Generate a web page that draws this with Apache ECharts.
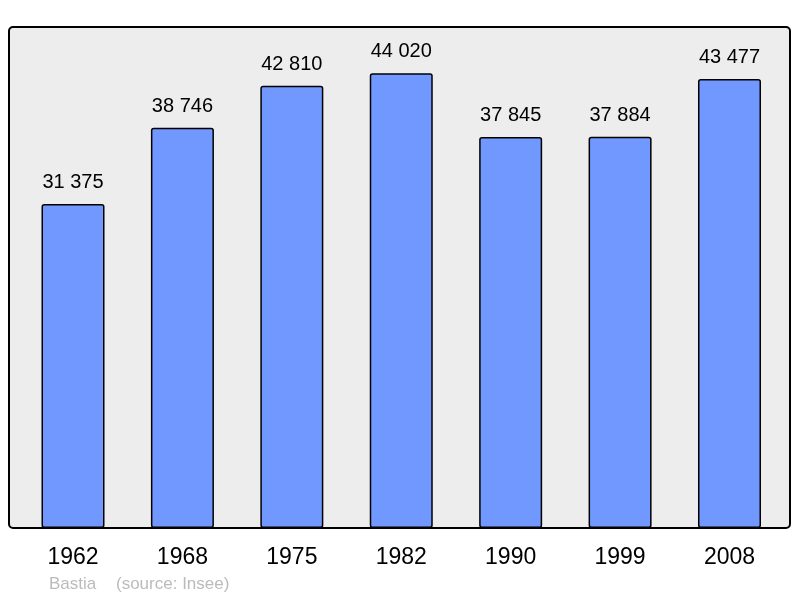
<!DOCTYPE html>
<html>
<head>
<meta charset="utf-8">
<script src="https://cdn.jsdelivr.net/npm/echarts@6/dist/echarts.min.js"></script>
<style>
html,body{margin:0;padding:0;background:#fff;}
#c{width:800px;height:598px;}
</style>
</head>
<body>
<div id="c"></div>
<script>
const years = ['1962','1968','1975','1982','1990','1999','2008'];
const population = [31375, 38746, 42810, 44020, 37845, 37884, 43477];
const footerPlace = 'Bastia';
const footerSource = '(source: Insee)';

function fmt(v){ return String(v).replace(/\B(?=(\d{3})+(?!\d))/g, ' '); }

const chart = echarts.init(document.getElementById('c'), null, {renderer:'canvas'});
chart.setOption({
  animation: false,
  textStyle: { fontFamily: 'Liberation Sans, Arial, sans-serif' },
  graphic: [{
    type: 'rect',
    shape: { x: 9, y: 27, width: 781, height: 501, r: 4 },
    style: { fill: '#ededed', stroke: '#000', lineWidth: 2 },
    z: -10
  }, {
    type: 'text',
    left: 49, top: 576,
    style: { text: footerPlace, fill: '#bbbbbb', font: '17px "Liberation Sans", Arial, sans-serif' }
  }, {
    type: 'text',
    left: 116, top: 576,
    style: { text: footerSource, fill: '#bbbbbb', font: '17px "Liberation Sans", Arial, sans-serif' }
  }],
  grid: { left: 18.3, right: 800 - 784.2, top: 27, bottom: 598 - 528, containLabel: false },
  xAxis: {
    type: 'category',
    data: years,
    axisLine: { show: false },
    axisTick: { show: false },
    axisLabel: { color: '#000', fontSize: 23, margin: 18.5 }
  },
  yAxis: {
    type: 'value', min: 0, max: 48500,
    show: false, splitLine: { show: false }
  },
  series: [{
    type: 'bar',
    data: population,
    barWidth: 63,
    itemStyle: { color: '#7098ff', borderColor: '#000', borderWidth: 1.5, borderRadius: 2 },
    label: {
      show: true, position: 'top', distance: 11.5,
      color: '#000', fontSize: 20,
      formatter: p => fmt(p.value)
    }
  }]
});
</script>
</body>
</html>
